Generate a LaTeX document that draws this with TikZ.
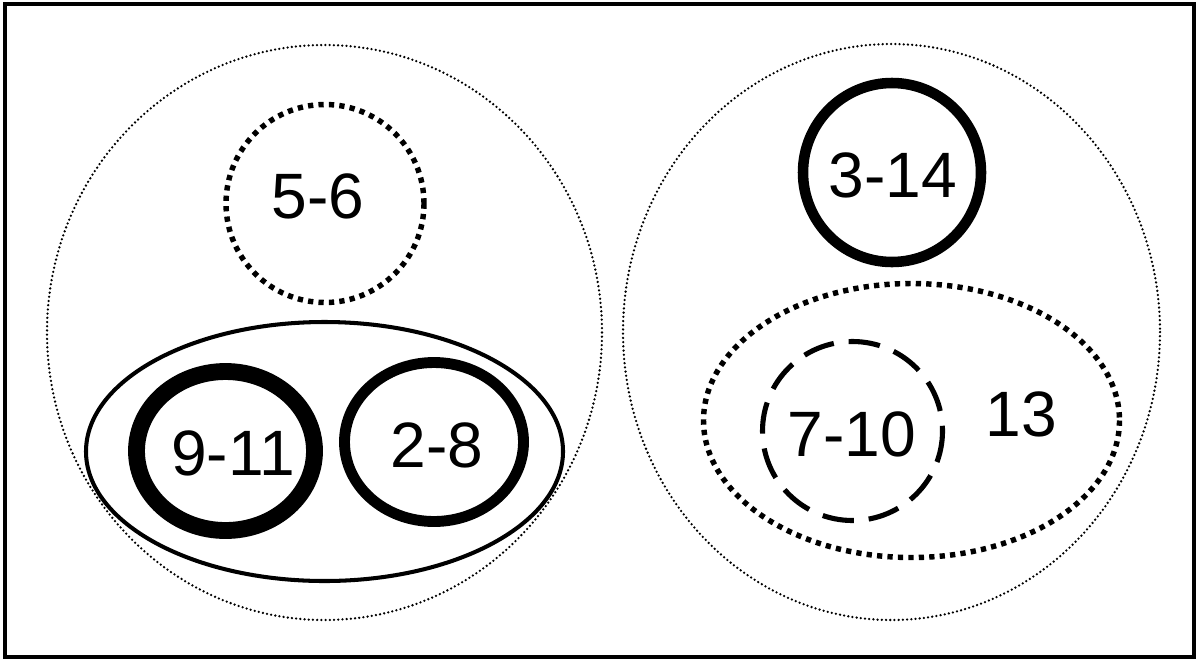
\documentclass[tikz,border=0pt]{standalone}
\usepackage{fontspec}
\setmainfont{Liberation Sans}
\usepackage{tikz}
\tikzset{
	finedots/.style={line width=1.45pt, line cap=round, dash pattern=on 0pt off 2.4pt},
	squaredots/.style={line width=3.1pt, dash pattern=on 3pt off 2.95pt},
	longdash/.style={line width=2.9pt, dash pattern=on 18pt off 8.5pt},
	label/.style={inner sep=0pt, font=\fontsize{36.5}{40}\selectfont}
}

\begin{document}
\begin{tikzpicture}[x=0.02cm, y=-0.02cm]
		%%%%% START %%%%%
		\useasboundingbox (0, 0) rectangle (1199, 660);
		\draw[line width=1.8pt] (5, 4) rectangle (1194, 657);
		
		\draw[finedots] (324.5, 332.5) ellipse (277.5 and 287.5);
		\draw[finedots] (891.5, 332) ellipse (268.5 and 288);
		
		\draw[squaredots] (325, 203.5) circle (99);
		\node[label] (g56) at (318, 196) {5-6};
		
		\draw[line width=2.3pt] (324.5, 451.5) ellipse (238.5 and 129.5);
		\draw[line width=9.6pt] (225.5, 451) ellipse (89 and 79.5);
		\node[label] (g911) at (233, 453) {9-11};
		\draw[line width=6.2pt] (434, 442) ellipse (89.5 and 79.5);
		\node[label] (g28) at (437, 445) {2-8};
		
		\draw[line width=6pt] (892, 172.5) ellipse (89 and 89.5);
		\node[label] (g314) at (893, 175) {3-14};
		
		\draw[squaredots] (911.5, 420.5) ellipse (208 and 137);
		\node[label] (g13) at (1021, 414.5) {13};
		\draw[longdash] (852.5, 431) ellipse (90 and 89.5);
		\node[label] (g710) at (852, 434) {7-10};
		
		%%%%% END %%%%%
	\end{tikzpicture}
\end{document}
